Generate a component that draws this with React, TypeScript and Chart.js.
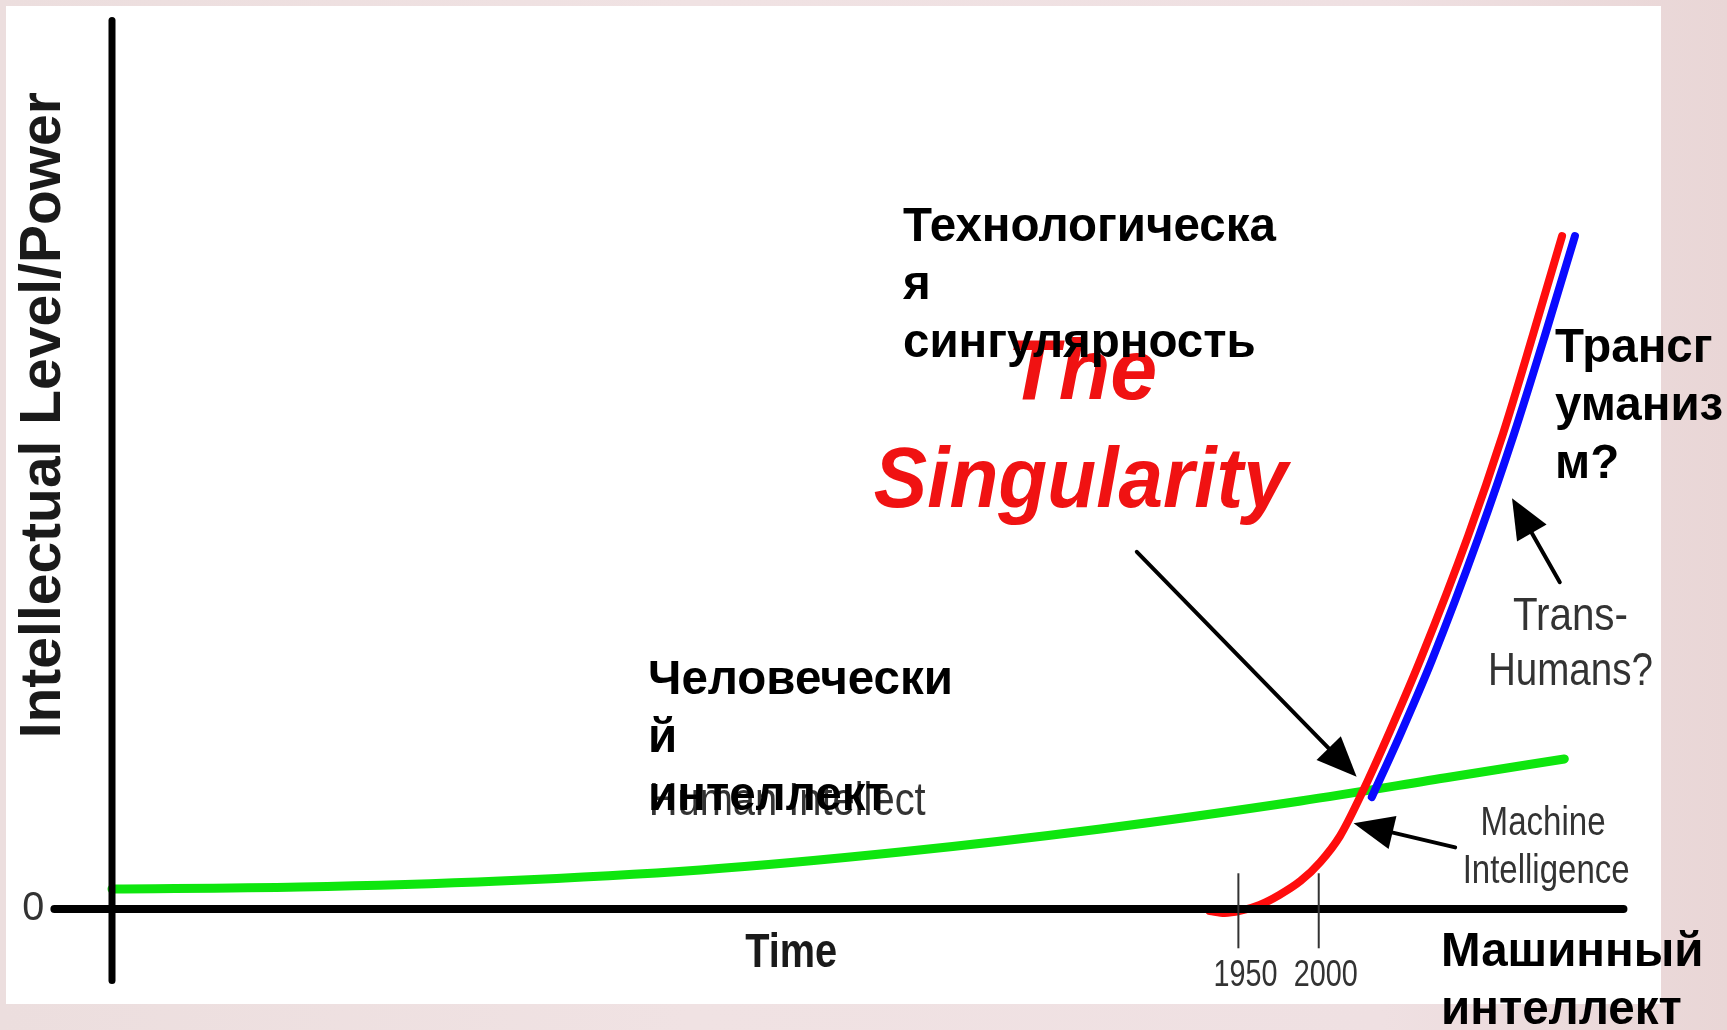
import { useEffect, useRef } from 'react';
import { Chart, registerables } from 'chart.js';

Chart.register(...registerables);

// ---- data (abstract units: time 0..100 along the x axis, level 0..100 up the y axis)
const humanX = [0, 12.4, 25.6, 38.8, 52.0, 65.2, 78.4, 88.3, 95.8];
const humanY = [2.24, 2.46, 3.14, 4.37, 6.38, 8.96, 12.09, 14.78, 16.8];
const machineX = [72.4, 73.4, 74.4, 75.7, 77.0, 78.4, 79.7, 81.0, 82.45, 84.3, 86.35, 89.45, 91.75, 93.73, 95.65];
const machineY = [-0.22, -0.45, -0.22, 0.45, 1.57, 3.14, 5.26, 8.17, 12.99, 19.93, 28.11, 41.77, 53.19, 64.28, 75.36];
const transX = [83.1, 84.96, 87.07, 90.17, 92.48, 94.53, 96.5];
const transY = [12.54, 19.48, 27.88, 41.77, 53.19, 64.28, 75.36];
const timeTicks = [74.3, 79.6];
const timeTickLabels = ['1950', '2000'];
const zeroLabel = '0';

// ---- texts
const yTitle = 'Intellectual Level/Power';
const xTitle = 'Time';
const humanLabel = 'Human Intellect';
const machineLabel = ['Machine', 'Intelligence'];
const transLabel = ['Trans-', 'Humans?'];
const singularityLabel = ['The', 'Singularity'];
const ruSingularity = 'Технологическа\nя\nсингулярность';
const ruTrans = 'Трансг\nуманиз\nм?';
const ruHuman = 'Человечески\nй\nинтеллект';
const ruMachine = 'Машинный\nинтеллект';

const toPts = (xs: number[], ys: number[]) => xs.map((x, i) => ({ x, y: ys[i] }));

const NARROW = "'Liberation Sans Narrow', 'Liberation Sans', Arial, sans-serif";
const SANS = "'Liberation Sans', Arial, sans-serif";

function arrow(ctx: CanvasRenderingContext2D, x1: number, y1: number, x2: number, y2: number) {
  const dx = x2 - x1, dy = y2 - y1;
  const len = Math.hypot(dx, dy);
  const ux = dx / len, uy = dy / len;
  const L = 40, W = 17;
  const bx = x2 - ux * L, by = y2 - uy * L;
  ctx.lineWidth = 4;
  ctx.lineCap = 'round';
  ctx.beginPath();
  ctx.moveTo(x1, y1);
  ctx.lineTo(bx + ux * 4, by + uy * 4);
  ctx.stroke();
  ctx.beginPath();
  ctx.moveTo(x2, y2);
  ctx.lineTo(bx - uy * W, by + ux * W);
  ctx.lineTo(bx + uy * W, by - ux * W);
  ctx.closePath();
  ctx.fill();
}

const decorPlugin = {
  id: 'decor',
  afterDatasetsDraw(chart: any) {
    const { ctx, scales } = chart;
    const X = (v: number) => scales.x.getPixelForValue(v);
    const Y = (v: number) => scales.y.getPixelForValue(v);
    ctx.save();
    ctx.strokeStyle = '#000';
    ctx.fillStyle = '#000';
    ctx.lineCap = 'round';
    // x axis
    ctx.lineWidth = 8;
    ctx.beginPath();
    ctx.moveTo(X(-3.8), Y(0));
    ctx.lineTo(X(99.7), Y(0));
    ctx.stroke();
    // y axis
    ctx.lineWidth = 7;
    ctx.beginPath();
    ctx.moveTo(X(0), Y(99.5));
    ctx.lineTo(X(0), Y(-8.0));
    ctx.stroke();
    // time ticks
    ctx.lineWidth = 2;
    ctx.strokeStyle = '#333';
    ctx.lineCap = 'butt';
    timeTicks.forEach((t) => {
      ctx.beginPath();
      ctx.moveTo(X(t), Y(4.0));
      ctx.lineTo(X(t), Y(-4.4));
      ctx.stroke();
    });
    // tick labels
    ctx.fillStyle = '#333';
    ctx.textAlign = 'center';
    ctx.textBaseline = 'alphabetic';
    ctx.font = `36px ${NARROW}`;
    timeTicks.forEach((t, i) => {
      ctx.fillText(timeTickLabels[i], X(t) + 7, Y(-8.6), 64);
    });
    // zero label
    ctx.font = `40px ${NARROW}`;
    ctx.textBaseline = 'middle';
    ctx.fillText(zeroLabel, X(-5.2), Y(0), 22);
    // x title
    ctx.textBaseline = 'alphabetic';
    ctx.fillStyle = '#1a1a1a';
    ctx.font = `bold 48px ${NARROW}`;
    ctx.fillText(xTitle, X(44.8), Y(-6.5), 92);
    // y title
    ctx.save();
    ctx.translate(X(-3.4), Y(55.3));
    ctx.rotate(-Math.PI / 2);
    ctx.font = `bold 57px ${SANS}`;
    ctx.fillText(yTitle, 0, 0, 652);
    ctx.restore();
    // ghost labels from the original picture
    ctx.fillStyle = '#333';
    ctx.textAlign = 'left';
    ctx.font = `47px ${NARROW}`;
    ctx.fillText(humanLabel, X(35.4), Y(10.5), 277);
    ctx.textAlign = 'center';
    ctx.font = `40px ${NARROW}`;
    ctx.fillText(machineLabel[0], X(94.4), Y(8.3), 125);
    ctx.fillText(machineLabel[1], X(94.6), Y(2.9), 167);
    ctx.font = `46px ${NARROW}`;
    ctx.fillText(transLabel[0], X(96.2), Y(31.2), 115);
    ctx.fillText(transLabel[1], X(96.2), Y(25.1), 165);
    // The Singularity
    ctx.fillStyle = '#f01212';
    ctx.font = `italic bold 85px ${SANS}`;
    ctx.fillText(singularityLabel[0], X(64.0), Y(57.1), 150);
    ctx.fillText(singularityLabel[1], X(63.9), Y(45.0), 414);
    // arrows
    ctx.fillStyle = '#000';
    ctx.strokeStyle = '#000';
    arrow(ctx, X(67.6), Y(40.0), X(82.1), Y(14.8));
    arrow(ctx, X(88.6), Y(6.9), X(81.9), Y(9.6));
    arrow(ctx, X(95.5), Y(36.6), X(92.35), Y(46.0));
    ctx.restore();
  },
};

const ruStyle = (left: number, top: number): React.CSSProperties => ({
  position: 'absolute',
  left,
  top,
  margin: 0,
  fontFamily: SANS,
  fontWeight: 'bold',
  fontSize: 47.5,
  lineHeight: '58px',
  color: '#000',
  whiteSpace: 'pre',
});

export default function App() {
  const ref = useRef<HTMLCanvasElement>(null);

  useEffect(() => {
    document.body.style.margin = '0';
    document.body.style.overflow = 'hidden';
    const canvas = ref.current!;
    const common = {
      type: 'line' as const,
      pointRadius: 0,
      fill: false,
      clip: false as any,
      cubicInterpolationMode: 'monotone' as const,
      borderCapStyle: 'round' as const,
      borderJoinStyle: 'round' as const,
    };
    const chart = new Chart(canvas, {
      type: 'line',
      data: {
        datasets: [
          { ...common, label: 'Human Intellect', data: toPts(humanX, humanY), borderColor: '#0ee60e', borderWidth: 9, order: 3 },
          { ...common, label: 'Trans-Humans', data: toPts(transX, transY), borderColor: '#0a0aff', borderWidth: 8, order: 2 },
          { ...common, label: 'Machine Intelligence', data: toPts(machineX, machineY), borderColor: '#ff0d0d', borderWidth: 8, order: 1 },
        ],
      },
      options: {
        responsive: false,
        animation: false,
        devicePixelRatio: 1,
        events: [],
        layout: { padding: { left: 112, right: 99, top: 16, bottom: 121 } },
        scales: {
          x: { type: 'linear', min: 0, max: 100, display: false },
          y: { type: 'linear', min: 0, max: 100, display: false },
        },
        plugins: { legend: { display: false }, tooltip: { enabled: false }, title: { display: false } },
      },
      plugins: [decorPlugin],
    });
    return () => chart.destroy();
  }, []);

  return (
    <div
      style={{
        position: 'absolute',
        left: 0,
        top: 0,
        width: 1727,
        height: 1030,
        overflow: 'hidden',
        background: 'linear-gradient(90deg, #ecdede 0%, #f0e2e3 40%, #efe0e2 80%, #e9d6d6 100%)',
      }}
    >
      <div style={{ position: 'absolute', left: 6, top: 6, width: 1655, height: 998, background: '#fff' }} />
      <canvas
        ref={ref}
        width={1727}
        height={1030}
        style={{ position: 'absolute', left: 0, top: 0, width: 1727, height: 1030, filter: 'blur(0.4px)' }}
      />
      <div style={ruStyle(903, 196)}>{ruSingularity}</div>
      <div style={ruStyle(1555, 317)}>{ruTrans}</div>
      <div style={ruStyle(648, 649)}>{ruHuman}</div>
      <div style={ruStyle(1441, 921)}>{ruMachine}</div>
    </div>
  );
}
